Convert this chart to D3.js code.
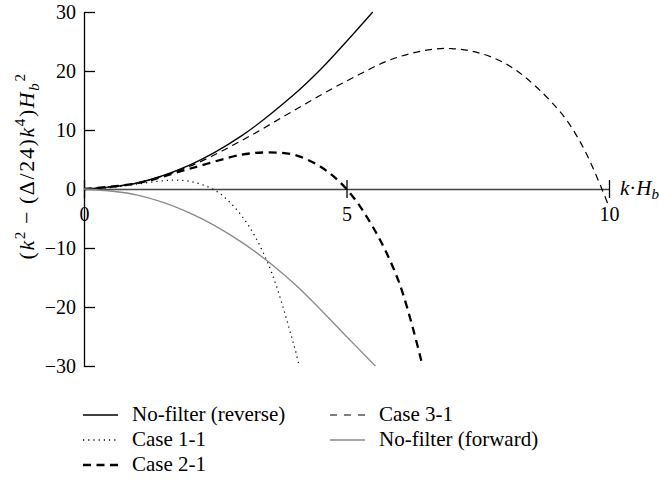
<!DOCTYPE html>
<html>
<head>
<meta charset="utf-8">
<script src="https://cdn.jsdelivr.net/npm/d3@7"></script>
<style>
  body { margin: 0; background: #fff; }
  svg { font-family: "Liberation Serif", "DejaVu Serif", serif; }
</style>
</head>
<body>
<div class="vis"></div>
<script>
// values
const xTicks = [0, 5, 10]
const yTicks = [-30, -20, -10, 0, 10, 20, 30]

const kReverse = [0, 1, 2, 3, 4, 4.5, 5, 5.5]
const vReverse = [0, 1, 4, 9, 16, 20.2, 25, 30]

const kCase11 = [0, 0.5, 1, 1.5, 1.75, 2, 2.5, 3, 3.5, 4, 4.1]
const vCase11 = [0, 0.24, 0.83, 1.4, 1.5, 1.33, -0.25, -4.5, -12.5, -26.5, -30]

const kCase21 = [0, 1, 2, 3, 3.5, 4, 4.5, 5, 5.5, 6, 6.45]
const vCase21 = [0, 0.96, 3.4, 5.8, 6.2, 5.8, 3.8, 0, -6.4, -15.8, -30]

const kCase31 = [0, 1, 2, 3, 4, 5, 6, 7, 8, 9, 9.5, 10]
const vCase31 = [0, 1, 3.8, 8.2, 13.3, 18.3, 22.4, 23.8, 21.4, 13.8, 7.2, -3]

const kForward = [0, 1, 2, 3, 4, 5, 5.55]
const vForward = [0, -1, -4, -9, -16, -25, -30]

const names = ['No-filter (reverse)', 'Case 1-1', 'Case 2-1', 'Case 3-1', 'No-filter (forward)']

const series = [
  { name: names[0], k: kReverse, v: vReverse, color: '#000', width: 1.3, dash: null },
  { name: names[1], k: kCase11, v: vCase11, color: '#000', width: 1.3, dash: '1.2,4' },
  { name: names[2], k: kCase21, v: vCase21, color: '#000', width: 2.3, dash: '8,5.5' },
  { name: names[3], k: kCase31, v: vCase31, color: '#000', width: 1.2, dash: '7,5', legendDash: '7,7' },
  { name: names[4], k: kForward, v: vForward, color: '#888', width: 1.3, dash: null }
]

const w = 659
const h = 483
const fs = 20

const svg = d3.select('.vis').append('svg')
  .attr('width', w)
  .attr('height', h)

const x = d3.scaleLinear().domain([0, 10]).range([84, 609])
const y = d3.scaleLinear().domain([-30, 30]).range([366, 12])

// y axis, ticks pointing inward
const yAxis = d3.axisLeft(y).tickValues(yTicks).tickSizeInner(-11).tickSizeOuter(0).tickPadding(8)
const gy = svg.append('g')
  .attr('transform', 'translate(' + x(0) + ',0)')
  .call(yAxis)
gy.select('.domain').attr('stroke', '#000').attr('stroke-width', 1.3)
gy.selectAll('.tick line').attr('stroke', '#000').attr('stroke-width', 1.3)
gy.selectAll('text').attr('font-size', fs).attr('font-family', 'Liberation Serif').attr('fill', '#000')

// x axis through zero, ticks crossing the line
const xAxis = d3.axisBottom(x).tickValues(xTicks).tickSize(9).tickPadding(9).tickSizeOuter(0)
const gx = svg.append('g')
  .attr('transform', 'translate(0,' + y(0) + ')')
  .call(xAxis)
gx.select('.domain').attr('stroke', '#444').attr('stroke-width', 1.5)
gx.selectAll('.tick line').attr('y1', -9).attr('stroke', '#000').attr('stroke-width', 1.3)
gx.selectAll('text').attr('font-size', fs).attr('font-family', 'Liberation Serif').attr('fill', '#000')

// curves
const line = d3.line()
  .x(d => x(d[0]))
  .y(d => y(d[1]))
  .curve(d3.curveCatmullRom.alpha(0.5))

series.forEach(s => {
  svg.append('path')
    .datum(s.k.map((k, i) => [k, s.v[i]]))
    .attr('d', line)
    .attr('fill', 'none')
    .attr('stroke', s.color)
    .attr('stroke-width', s.width)
    .attr('stroke-dasharray', s.dash)
})

// x axis title
const xt = svg.append('text')
  .attr('x', 620)
  .attr('y', y(0) + 6)
  .attr('font-size', 21)
xt.append('tspan').attr('font-style', 'italic').text('k')
xt.append('tspan').text('\u00b7')
xt.append('tspan').attr('font-style', 'italic').text('H')
xt.append('tspan').attr('font-style', 'italic').attr('font-size', 15).attr('dy', 4).text('b')

// y axis title
const yt = svg.append('text')
  .attr('transform', 'translate(34,166) rotate(-90)')
  .attr('text-anchor', 'middle')
  .attr('font-size', 22)
  .attr('letter-spacing', 1.6)
yt.append('tspan').text('(')
yt.append('tspan').attr('font-style', 'italic').text('k')
yt.append('tspan').attr('font-size', 15).attr('dy', -9).text('2')
yt.append('tspan').attr('dy', 9).text('\u2009\u2212\u2009(\u0394/24)')
yt.append('tspan').attr('font-style', 'italic').text('k')
yt.append('tspan').attr('font-size', 15).attr('dy', -9).text('4')
yt.append('tspan').attr('dy', 9).text(')')
yt.append('tspan').attr('font-style', 'italic').text('H')
yt.append('tspan').attr('font-style', 'italic').attr('font-size', 15).attr('dy', 5).text('b')
yt.append('tspan').attr('font-size', 15).attr('dy', -14).attr('dx', 0).text('2')

// legend
const legendPos = [[83, 421], [83, 446], [83, 471], [330, 421], [330, 446]]
series.forEach((s, i) => {
  const p = legendPos[i]
  svg.append('line')
    .attr('x1', p[0]).attr('x2', p[0] + 35)
    .attr('y1', p[1] - 6).attr('y2', p[1] - 6)
    .attr('stroke', s.color)
    .attr('stroke-width', s.width)
    .attr('stroke-dasharray', s.legendDash || s.dash)
  svg.append('text')
    .attr('x', p[0] + 49)
    .attr('y', p[1])
    .attr('font-size', 21)
    .text(s.name)
})
</script>
</body>
</html>
